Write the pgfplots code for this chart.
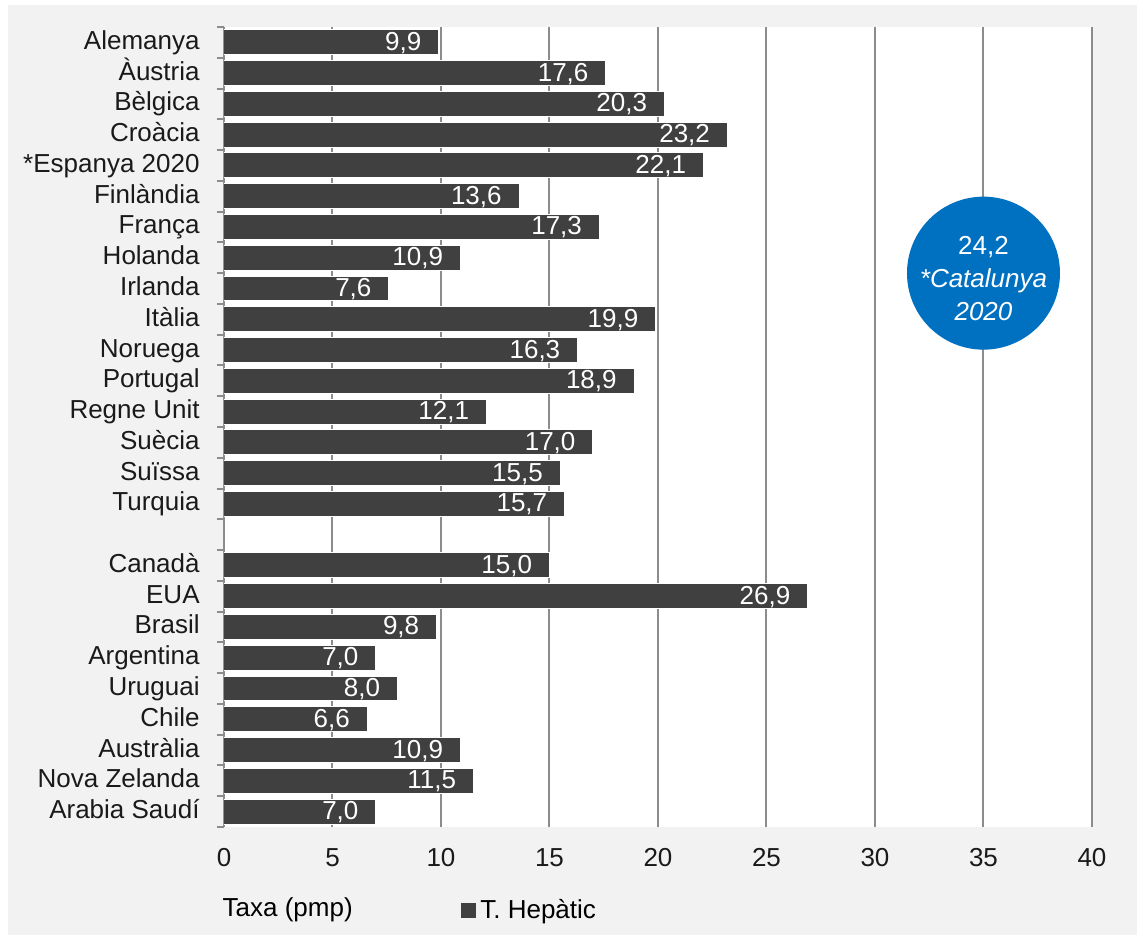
\documentclass[border=0pt]{standalone}
\usepackage{fontspec}
\setmainfont{Liberation Sans}
\usepackage{pgfplots}
\pgfplotsset{compat=1.18}
\definecolor{barcol}{HTML}{404040}
\definecolor{gridcol}{HTML}{8C8C8C}
\definecolor{bgcol}{HTML}{F2F2F2}
\definecolor{circblue}{HTML}{0070C0}
\definecolor{txt}{HTML}{1A1A1A}
\begin{document}
\begin{tikzpicture}
\useasboundingbox (0pt,0pt) rectangle (568.5pt,467.5pt);
\fill[white] (0pt,0pt) rectangle (568.5pt,467.5pt);
\fill[bgcol] (4pt,0pt) rectangle (568.5pt,465pt);
\begin{axis}[
  at={(112pt,54pt)}, anchor=south west,
  scale only axis, width=434pt, height=400pt,
  xbar, bar width=0.81,
  xmin=0, xmax=40, ymin=-0.5, ymax=25.5, y dir=reverse,
  xtick={0,5,...,40},
  ytick={0,1,2,3,4,5,6,7,8,9,10,11,12,13,14,15,17,18,19,20,21,22,23,24,25},
  yticklabels={Alemanya,Àustria,Bèlgica,Croàcia,*Espanya 2020,Finlàndia,França,Holanda,Irlanda,Itàlia,Noruega,Portugal,Regne Unit,Suècia,Suïssa,Turquia,Canadà,EUA,Brasil,Argentina,Uruguai,Chile,Austràlia,Nova Zelanda,Arabia Saudí},
  minor ytick={-0.5,0.5,...,25.5},
  axis background/.style={fill=white},
  axis x line*=bottom, axis y line*=left,
  x axis line style={draw=none},
  y axis line style={draw=gridcol, line width=1pt},
  tick align=outside,
  major tick length=0pt, minor tick length=3.5pt,
  minor tick style={draw=gridcol, line width=1pt},
  xmajorgrids, major grid style={draw=gridcol, line width=1pt},
  /pgf/number format/assume math mode=true,
  tick label style={font=\fontsize{13}{15}\selectfont, text=txt},
  xticklabel style={inner sep=0pt, anchor=north, yshift=-10.5pt},
  yticklabel style={inner sep=0pt, anchor=east, xshift=-12pt, text height=10pt, text depth=3pt},
  nodes near coords={\pgfmathprintnumber[fixed,fixed zerofill,precision=1,use comma]{\pgfplotspointmeta}},
  nodes near coords style={anchor=east, inner sep=0pt, xshift=-8.5pt, yshift=-0.5pt, text=white, font=\fontsize{13}{15}\selectfont, text height=10pt, text depth=3pt},
  xlabel={Taxa (pmp)},
  xlabel style={at={(axis description cs:-0.002,-0.104)}, anchor=west, inner sep=0pt, font=\fontsize{13}{15}\selectfont, text=black},
  legend style={at={(axis description cs:0.273,-0.104)}, anchor=west, draw=none, fill=none, inner sep=0pt, font=\fontsize{13}{15}\selectfont},
  legend image code/.code={\fill[barcol] (0pt,-3.5pt) rectangle (7pt,3.5pt);},
]
\addplot[fill=barcol, draw=white, line width=0.5pt] coordinates {
(9.9,0) (17.6,1) (20.3,2) (23.2,3) (22.1,4) (13.6,5) (17.3,6) (10.9,7) (7.6,8) (19.9,9) (16.3,10) (18.9,11) (12.1,12) (17.0,13) (15.5,14) (15.7,15)
(15.0,17) (26.9,18) (9.8,19) (7.0,20) (8.0,21) (6.6,22) (10.9,23) (11.5,24) (7.0,25)};
\addlegendentry{T. Hepàtic}
\node[circle, fill=circblue, minimum size=76.5pt, inner sep=0pt] at (axis cs:35,7.5) {};
\node[inner sep=0pt, text=white, align=center, yshift=-2.5pt, font=\fontsize{13}{16.5}\selectfont] at (axis cs:35,7.5) {24,2\\\textit{*Catalunya}\\\textit{2020}};
\end{axis}
\end{tikzpicture}
\end{document}
